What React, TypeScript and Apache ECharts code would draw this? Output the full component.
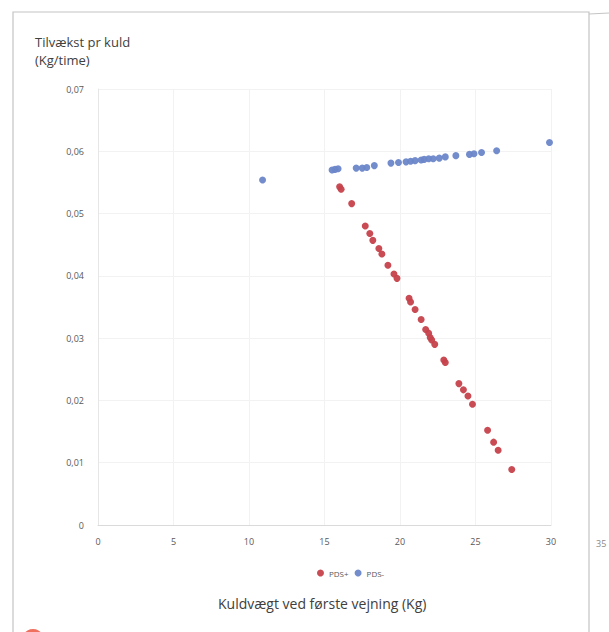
import React, { useEffect, useRef } from "react";
import * as echarts from "echarts";

const yTitleLines = ["Tilvækst pr kuld", "(Kg/time)"];
const xTitle = "Kuldvægt ved første vejning (Kg)";
const seriesNames = ["PDS+", "PDS-"];

const pdsPlusX = [16.0, 16.1, 16.8, 17.7, 18.0, 18.2, 18.6, 18.8, 19.2, 19.6, 19.8, 20.6, 20.7, 21.0, 21.4, 21.7, 21.9, 22.0, 22.1, 22.3, 22.9, 23.0, 23.9, 24.2, 24.5, 24.8, 25.8, 26.2, 26.5, 27.4];
const pdsPlusY = [0.0543, 0.0539, 0.0516, 0.048, 0.0468, 0.0457, 0.0444, 0.0435, 0.0417, 0.0403, 0.0396, 0.0364, 0.0358, 0.0346, 0.033, 0.0314, 0.0308, 0.0301, 0.0297, 0.029, 0.0265, 0.0261, 0.0227, 0.0217, 0.0207, 0.0194, 0.0152, 0.0133, 0.012, 0.0089];

const pdsMinusX = [10.9, 15.5, 15.7, 15.9, 17.1, 17.5, 17.8, 18.3, 19.4, 19.9, 20.4, 20.7, 21.0, 21.4, 21.6, 21.9, 22.2, 22.6, 23.0, 23.7, 24.6, 24.9, 25.4, 26.4, 29.9];
const pdsMinusY = [0.0554, 0.057, 0.0571, 0.0572, 0.0573, 0.0573, 0.0574, 0.0577, 0.0581, 0.0582, 0.0583, 0.0584, 0.0585, 0.0586, 0.0587, 0.0588, 0.0588, 0.0589, 0.0591, 0.0593, 0.0595, 0.0596, 0.0598, 0.0601, 0.0614];

const xMin = 0;
const xMax = 30;
const xStep = 5;
const yMin = 0;
const yMax = 0.07;
const yStep = 0.01;

const RED = "#c6424c";
const BLUE = "#6c86c9";

export default function App() {
  const ref = useRef<HTMLDivElement>(null);
  useEffect(() => {
    if (!ref.current) return;
    const chart = echarts.init(ref.current, null, { renderer: "svg" });
    const plus = pdsPlusX.map((x, i) => [x, pdsPlusY[i]]);
    const minus = pdsMinusX.map((x, i) => [x, pdsMinusY[i]]);
    chart.setOption({
      animation: false,
      backgroundColor: "#ffffff",
      textStyle: { fontFamily: "Open Sans, Noto Sans, sans-serif" },
      grid: { left: 98, right: 58, top: 89, bottom: 107, containLabel: false },
      xAxis: {
        type: "value",
        min: xMin,
        max: xMax,
        interval: xStep,
        axisLine: { show: true, lineStyle: { color: "#dadada" } },
        axisTick: { show: false },
        splitLine: { show: true, lineStyle: { color: "#f2f2f2" } },
        axisLabel: { color: "#595959", fontSize: 9, margin: 12 },
      },
      yAxis: {
        type: "value",
        min: yMin,
        max: yMax,
        interval: yStep,
        axisLine: { show: true, lineStyle: { color: "#e6e6e6" } },
        axisTick: { show: false },
        splitLine: { show: true, lineStyle: { color: "#f2f2f2" } },
        axisLabel: {
          color: "#595959",
          fontSize: 9,
          margin: 14,
          formatter: (v: number) => (v === 0 ? "0" : v.toFixed(2).replace(".", ",")),
        },
      },
      legend: {
        left: 312,
        top: 564,
        itemWidth: 7,
        itemHeight: 7,
        itemGap: 6,
        icon: "circle",
        textStyle: { color: "#595959", fontSize: 8 },
        data: seriesNames,
      },
      series: [
        {
          name: seriesNames[0],
          type: "scatter",
          data: plus,
          symbolSize: 7,
          clip: false,
          itemStyle: { color: RED, opacity: 0.95 },
        },
        {
          name: seriesNames[1],
          type: "scatter",
          data: minus,
          symbolSize: 7,
          clip: false,
          itemStyle: { color: BLUE, opacity: 0.95 },
        },
      ],
      graphic: [
        {
          type: "rect",
          shape: { x: 13, y: 12, width: 576, height: 640 },
          style: { fill: "none", stroke: "#c4c4c4", lineWidth: 1.2 },
          silent: true,
        },
        {
          type: "line",
          shape: { x1: 589, y1: 14, x2: 609, y2: 13 },
          style: { stroke: "#c4c4c4", lineWidth: 1.2 },
          silent: true,
        },
        {
          type: "text",
          left: 35,
          top: 33,
          style: {
            text: yTitleLines.join("\n"),
            fill: "#404040",
            fontSize: 13,
            lineHeight: 18,
            fontFamily: "Open Sans, Noto Sans, sans-serif",
          },
        },
        {
          type: "text",
          left: 218,
          top: 596,
          style: {
            text: xTitle,
            fill: "#404040",
            fontSize: 14,
            fontFamily: "Open Sans, Noto Sans, sans-serif",
          },
        },
        {
          type: "text",
          left: 596,
          top: 539,
          style: { text: "35", fill: "#8a8a8a", fontSize: 9, fontFamily: "Open Sans, sans-serif" },
        },
        {
          type: "circle",
          shape: { cx: 33, cy: 640, r: 11 },
          style: { fill: "#f0705f" },
          silent: true,
        },
      ],
    });
    return () => chart.dispose();
  }, []);
  return (
    <div
      ref={ref}
      style={{ position: "absolute", left: 0, top: 0, width: 609, height: 632 }}
    />
  );
}
